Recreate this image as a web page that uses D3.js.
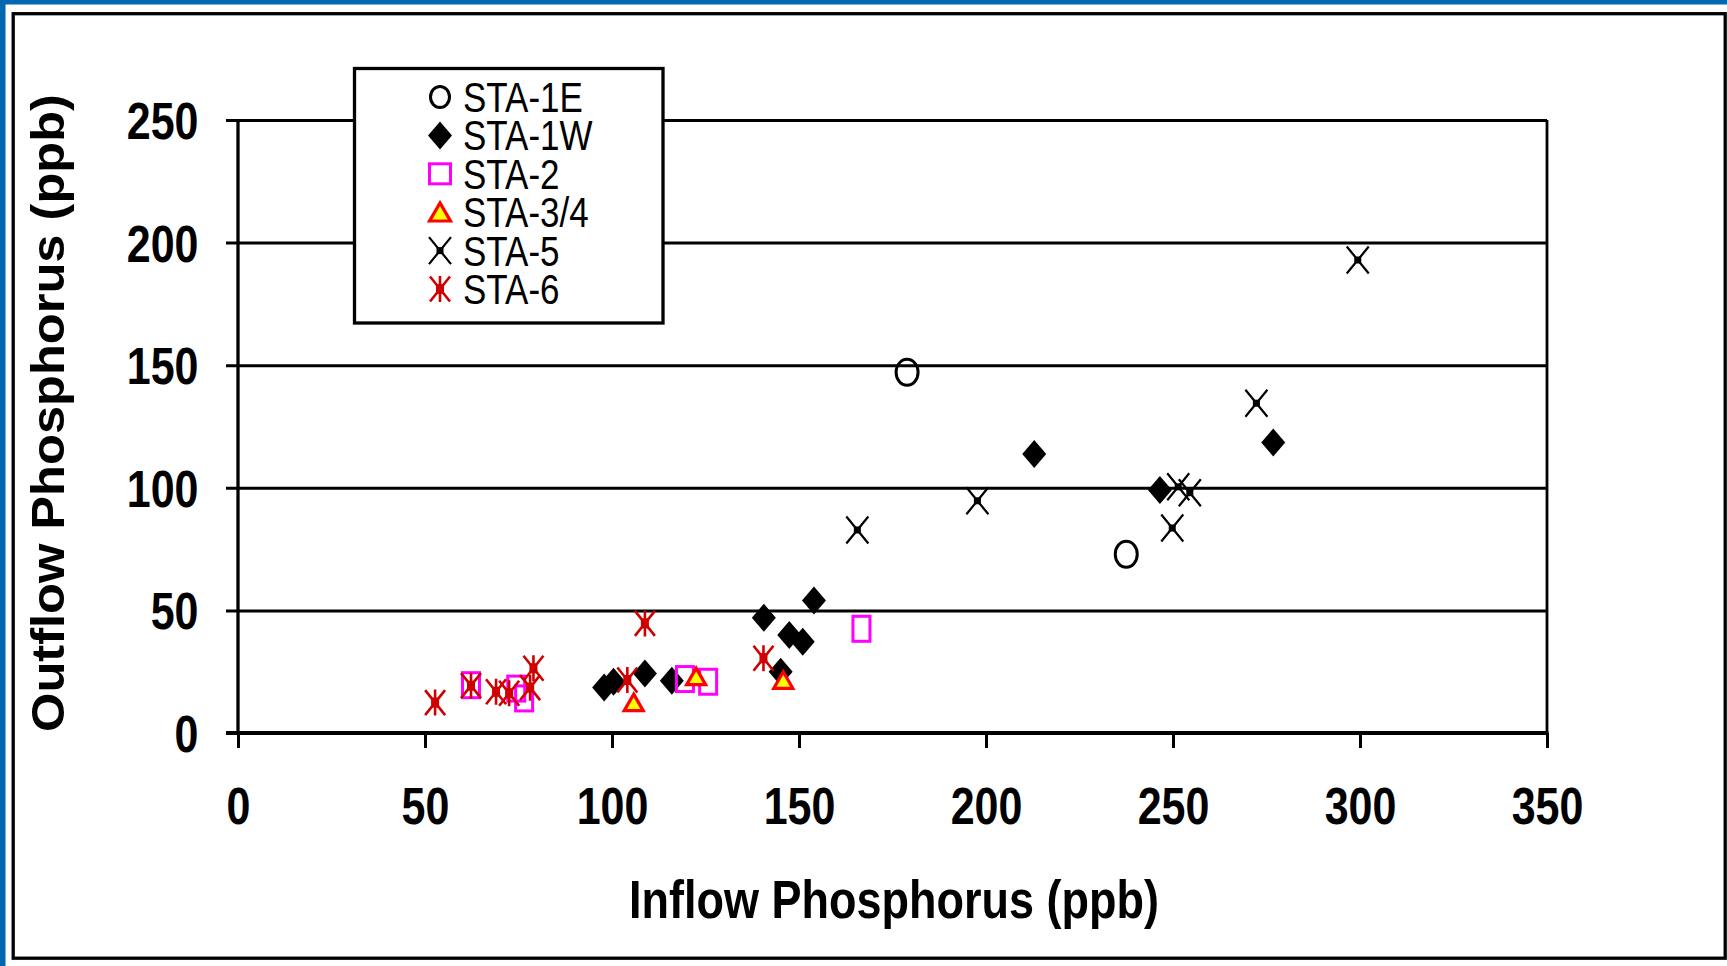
<!DOCTYPE html>
<html>
<head>
<meta charset="utf-8">
<script src="https://cdn.jsdelivr.net/npm/d3@7"></script>
<style>
  html, body { margin: 0; padding: 0; background: #fff; overflow: hidden; }
  svg { display: block; }
  text { font-family: "Liberation Sans", Arial, sans-serif; fill: #000; }
</style>
</head>
<body>
<svg id="chart" width="1727" height="966"></svg>
<script>
// Axis ticks
const xTicks = [0, 50, 100, 150, 200, 250, 300, 350];
const yTicks = [0, 50, 100, 150, 200, 250];

// Station names (legend order)
const stations = ["STA-1E", "STA-1W", "STA-2", "STA-3/4", "STA-5", "STA-6"];

// [inflow, outflow] phosphorus, ppb
const sta1E = [[178.9, 147.1], [237.5, 72.9]];
const sta1W = [[97.9, 18.6], [100.4, 20.9], [108.8, 24.3], [116.0, 21.3], [140.6, 47.0],
               [145.1, 25.0], [147.4, 40.0], [151.0, 37.2], [154.0, 54.0], [212.9, 113.8],
               [246.5, 99.1], [276.8, 118.5]];
const sta2  = [[62.3, 19.5], [74.4, 18.1], [76.5, 14.1], [119.5, 22.0], [125.7, 20.9], [166.7, 42.5]];
const sta34 = [[105.8, 12.4], [122.5, 23.0], [145.8, 21.5]];
const sta5  = [[165.6, 82.8], [197.7, 94.7], [249.8, 83.6], [251.4, 100.4], [254.5, 98.0],
               [272.3, 134.5], [299.4, 192.9]];
const sta6  = [[52.7, 12.4], [62.3, 19.3], [69.0, 16.8], [72.5, 16.2], [78.1, 18.5],
               [79.0, 26.4], [104.1, 21.6], [108.8, 44.7], [140.5, 30.5]];

const seriesData = [sta1E, sta1W, sta2, sta34, sta5, sta6];

const svg = d3.select("#chart");
const W = 1727, H = 966;

// Outer frame: blue edge on top/left, black border inside
svg.append("rect").attr("x", 0).attr("y", 0).attr("width", W).attr("height", 4.5).attr("fill", "#0067B1");
svg.append("rect").attr("x", 0).attr("y", 0).attr("width", 5.5).attr("height", H).attr("fill", "#0067B1");
svg.append("rect").attr("x", 13.2).attr("y", 13.7).attr("width", 1712).attr("height", 944.5)
  .attr("fill", "none").attr("stroke", "#000").attr("stroke-width", 3.3);

// Plot scales
const x = d3.scaleLinear().domain([0, 350]).range([238, 1547]);
const y = d3.scaleLinear().domain([0, 250]).range([733, 120]);

const plot = svg.append("g");

// Horizontal gridlines + left ticks with labels via axisLeft
const yAxis = d3.axisLeft(y).tickValues(yTicks).tickSizeOuter(0).tickSizeInner(0);
const gy = plot.append("g").attr("transform", `translate(${x(0)},0)`).call(yAxis);
gy.select(".domain").remove();
gy.selectAll(".tick line")
  .attr("x1", -12).attr("x2", x(350) - x(0))
  .attr("stroke", "#000").attr("stroke-width", 3);
gy.selectAll(".tick text")
  .attr("x", null).attr("y", null).attr("dy", null)
  .attr("text-anchor", "end")
  .attr("transform", "translate(-39.5,18.5) scale(1,1.2)")
  .style("font-size", "43px").style("font-weight", "bold")
  .style("font-family", "'Liberation Sans', Arial, sans-serif").style("fill", "#000");

// Bottom ticks + labels via axisBottom
const xAxis = d3.axisBottom(x).tickValues(xTicks).tickSizeOuter(0).tickSizeInner(15);
const gx = plot.append("g").attr("transform", `translate(0,${y(0)})`).call(xAxis);
gx.select(".domain").remove();
gx.selectAll(".tick line").attr("stroke", "#000").attr("stroke-width", 3);
gx.selectAll(".tick text")
  .attr("y", null).attr("dy", null)
  .attr("text-anchor", "middle")
  .attr("transform", "translate(0,91) scale(1,1.2)")
  .style("font-size", "43px").style("font-weight", "bold")
  .style("font-family", "'Liberation Sans', Arial, sans-serif").style("fill", "#000");

// Axis lines and right edge of plot area
plot.append("line").attr("x1", x(0)).attr("x2", x(0)).attr("y1", y(250)).attr("y2", y(0))
  .attr("stroke", "#000").attr("stroke-width", 3.3);
plot.append("line").attr("x1", x(350)).attr("x2", x(350)).attr("y1", y(250)).attr("y2", y(0))
  .attr("stroke", "#000").attr("stroke-width", 2.8);
plot.append("line").attr("x1", x(0) - 12).attr("x2", x(350) + 1.4).attr("y1", y(0)).attr("y2", y(0))
  .attr("stroke", "#000").attr("stroke-width", 4);

// Marker painters, centred at (0,0)
function drawMarker(g, idx, legend) {
  if (idx === 0) {
    g.append("ellipse").attr("rx", legend ? 9.5 : 11).attr("ry", legend ? 10.5 : 13)
      .attr("fill", "none").attr("stroke", "#000").attr("stroke-width", 3);
  } else if (idx === 1) {
    g.append("path").attr("d", "M0,-14 L12,0 L0,14 L-12,0 Z").attr("fill", "#000");
  } else if (idx === 2) {
    const w = legend ? 21 : 17, h = legend ? 20 : 25;
    g.append("rect").attr("x", -w / 2).attr("y", -h / 2).attr("width", w).attr("height", h)
      .attr("fill", "none").attr("stroke", "#FF00FF").attr("stroke-width", 3);
  } else if (idx === 3) {
    const s = legend ? 1.1 : 1;
    g.append("path").attr("d", `M0,${-8.5 * s} L${9.5 * s},${8 * s} L${-9.5 * s},${8 * s} Z`)
      .attr("fill", "#FFFF00").attr("stroke", "#FF0000").attr("stroke-width", 3.2)
      .attr("stroke-linejoin", "miter");
  } else if (idx === 4) {
    g.append("path").attr("d", "M-11,-13.5 L11,13.5 M-11,13.5 L11,-13.5")
      .attr("stroke", "#000").attr("stroke-width", 2.2).attr("fill", "none");
    g.append("rect").attr("x", -3.5).attr("y", -3.5).attr("width", 7).attr("height", 7).attr("fill", "#000");
  } else {
    g.append("path").attr("d", "M-10,-12.5 L10,12.5 M-10,12.5 L10,-12.5 M0,-13 L0,13")
      .attr("stroke", "#D00000").attr("stroke-width", 2.6).attr("fill", "none");
    g.append("rect").attr("x", -4).attr("y", -5).attr("width", 8).attr("height", 10).attr("fill", "#D00000");
  }
}

// Data points
const pts = svg.append("g");
seriesData.forEach((arr, i) => {
  pts.append("g").selectAll("g").data(arr).join("g")
    .attr("transform", d => `translate(${x(d[0])},${y(d[1])})`)
    .each(function () { drawMarker(d3.select(this), i, false); });
});

// Legend
const lg = svg.append("g");
lg.append("rect").attr("x", 354.5).attr("y", 68.5).attr("width", 308.5).attr("height", 254.5)
  .attr("fill", "#fff").attr("stroke", "#000").attr("stroke-width", 3.3);
const rowY = d3.scaleLinear().domain([0, 5]).range([97, 289]);
stations.forEach((name, i) => {
  const row = lg.append("g").attr("transform", `translate(440,${rowY(i)})`);
  drawMarker(row, i, true);
  lg.append("text")
    .attr("transform", `translate(463,${rowY(i) + 15}) scale(1,1.2)`)
    .style("font-size", "35px")
    .text(name);
});

// Axis titles
svg.append("text")
  .attr("transform", "translate(894,918) scale(1,1.18)")
  .attr("text-anchor", "middle")
  .style("font-size", "45px").style("font-weight", "bold")
  .text("Inflow Phosphorus (ppb)");
svg.append("text")
  .attr("transform", "translate(63.5,413) rotate(-90) scale(1.1,1)")
  .attr("text-anchor", "middle")
  .style("font-size", "46px").style("font-weight", "bold")
  .text("Outflow Phosphorus (ppb)");
</script>
</body>
</html>
